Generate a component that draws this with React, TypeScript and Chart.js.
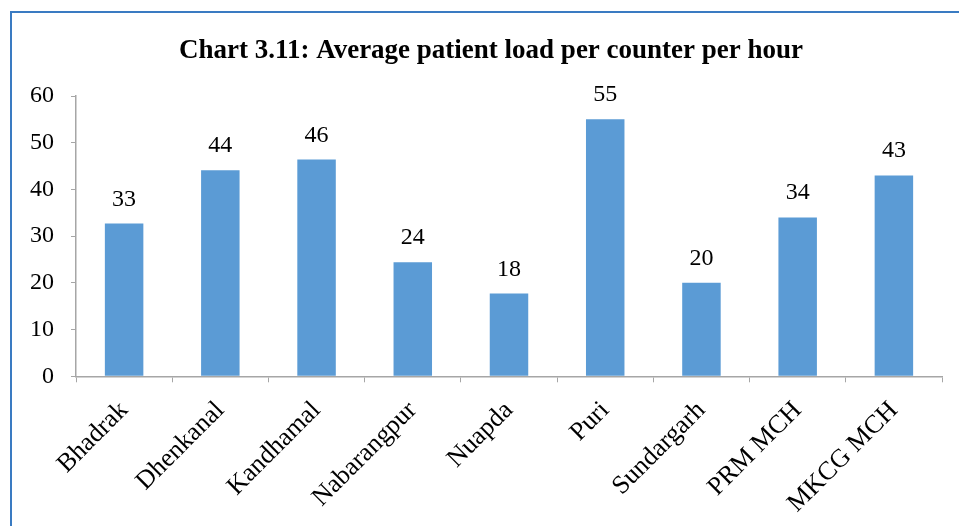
import React, { useEffect, useRef } from "react";
import { Chart, registerables } from "chart.js";

Chart.register(...registerables);

const categories = [
  "Bhadrak",
  "Dhenkanal",
  "Kandhamal",
  "Nabarangpur",
  "Nuapda",
  "Puri",
  "Sundargarh",
  "PRM MCH",
  "MKCG MCH",
];
const values = [32.7, 44.1, 46.4, 24.4, 17.7, 55.0, 20.0, 34.0, 43.0];
const dataLabels = ["33", "44", "46", "24", "18", "55", "20", "34", "43"];
const yTicks = [0, 10, 20, 30, 40, 50, 60];
const titleText = "Chart 3.11: Average patient load per counter per hour";

const FONT = "'Liberation Serif', 'Times New Roman', serif";

const labelPlugin = {
  id: "barValueLabels",
  afterDatasetsDraw(chart: any) {
    const ctx = chart.ctx;
    const meta = chart.getDatasetMeta(0);
    ctx.save();
    ctx.font = `24px ${FONT}`;
    ctx.fillStyle = "#000";
    ctx.textAlign = "center";
    ctx.textBaseline = "alphabetic";
    meta.data.forEach((bar: any, i: number) => {
      ctx.fillText(dataLabels[i], bar.x, bar.y - 18);
    });
    ctx.restore();
  },
};

const titlePlugin = {
  id: "chartTitle",
  afterDraw(chart: any) {
    const ctx = chart.ctx;
    ctx.save();
    ctx.font = `bold 27px ${FONT}`;
    ctx.fillStyle = "#000";
    ctx.textAlign = "center";
    ctx.textBaseline = "alphabetic";
    ctx.fillText(titleText, 491, 58);
    ctx.restore();
  },
};

export default function App() {
  const ref = useRef<HTMLCanvasElement | null>(null);

  useEffect(() => {
    if (!ref.current) return;
    const chart = new Chart(ref.current, {
      type: "bar",
      data: {
        labels: categories,
        datasets: [
          {
            data: values,
            backgroundColor: "#5B9BD5",
            borderWidth: 0,
            barPercentage: 0.4,
            categoryPercentage: 1,
          },
        ],
      },
      options: {
        responsive: false,
        animation: false,
        layout: { padding: { left: 13, right: 17, top: 96, bottom: -6 } },
        plugins: {
          legend: { display: false },
          tooltip: { enabled: false },
          title: { display: false },
        },
        scales: {
          x: {
            grid: {
              display: true,
              drawOnChartArea: false,
              offset: true,
              tickLength: 6,
              color: "#A6A6A6",
            },
            border: { color: "#A6A6A6", width: 1.5 },
            ticks: {
              color: "#000",
              font: { family: FONT, size: 26 },
              maxRotation: 45,
              minRotation: 45,
              autoSkip: false,
              padding: 13,
            },
          },
          y: {
            min: 0,
            max: 60,
            afterBuildTicks: (axis: any) => {
              axis.ticks = yTicks.map((v) => ({ value: v }));
            },
            grid: {
              display: true,
              drawOnChartArea: false,
              tickLength: 5,
              color: "#A6A6A6",
            },
            border: { color: "#A6A6A6", width: 1.5 },
            ticks: {
              color: "#000",
              font: { family: FONT, size: 24 },
              padding: 17,
            },
          },
        },
      },
      plugins: [labelPlugin, titlePlugin],
    });
    return () => chart.destroy();
  }, []);

  return (
    <div
      style={{
        position: "fixed",
        left: 0,
        top: 0,
        width: 959,
        height: 526,
        overflow: "hidden",
        background: "#fff",
      }}
    >
      <div
        style={{
          position: "absolute",
          left: 10,
          top: 11,
          width: 1000,
          height: 600,
          border: "2.5px solid #3A7BC2",
          boxSizing: "border-box",
        }}
      />
      <canvas
        ref={ref}
        width={959}
        height={526}
        style={{ position: "absolute", left: 0, top: 0 }}
      />
    </div>
  );
}
